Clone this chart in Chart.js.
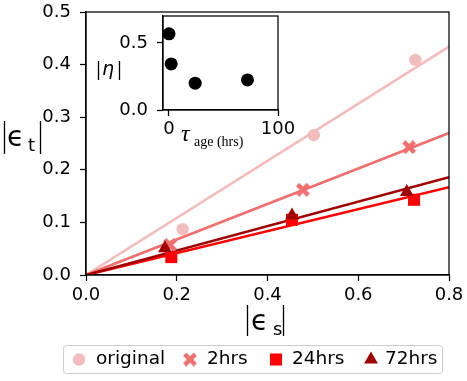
<!DOCTYPE html>
<html>
<head>
<meta charset="utf-8">
<script src="https://cdn.jsdelivr.net/npm/chart.js@4.4.0/dist/chart.umd.min.js"></script>
<style>
  body { margin: 0; background: #fff; }
  #wrap { position: relative; width: 467px; height: 381px; }
  #main { position: absolute; left: 0; top: 0; }
  #inset { position: absolute; left: 90px; top: 0; }
</style>
</head>
<body>
<div id="wrap">
  <canvas id="main" width="467" height="381"></canvas>
  <canvas id="inset" width="215" height="150"></canvas>
</div>
<script>
// series
const seriesNames = ['original', '2hrs', '24hrs', '72hrs'];
const seriesColors = ['#f4bdbd', '#ef6f6f', '#ff0000', '#a00000'];
const strainS = [
  [0.213, 0.502, 0.726],
  [0.185, 0.478, 0.712],
  [0.188, 0.454, 0.723],
  [0.174, 0.454, 0.707]
];
const strainT = [
  [0.087, 0.266, 0.409],
  [0.057, 0.162, 0.243],
  [0.034, 0.105, 0.143],
  [0.051, 0.113, 0.158]
];
// fitted lines through the origin, ends at x = 0.8
const fitS = [0, 0.8];
const fitT = [
  [0, 0.434],
  [0, 0.270],
  [0, 0.167],
  [0, 0.186]
];
const xTicks = [0, 0.2, 0.4, 0.6, 0.8];
const yTicks = [0, 0.1, 0.2, 0.3, 0.4, 0.5];

// inset
const ageHrs = [0, 2, 24, 72];
const etaAbs = [0.567, 0.343, 0.200, 0.224];
const insetXTicks = [0, 100];
const insetYTicks = [0, 0.5];

const FONT = 'DejaVu Sans';
const tickFont = { family: FONT, size: 18 };

// filled "X" marker like matplotlib's
function makeXMarker(color, size) {
  const c = document.createElement('canvas');
  c.width = size; c.height = size;
  const g = c.getContext('2d');
  g.strokeStyle = color;
  g.lineWidth = size * 0.32;
  g.lineCap = 'butt';
  const a = size * 0.12;
  g.beginPath();
  g.moveTo(a, a); g.lineTo(size - a, size - a);
  g.moveTo(size - a, a); g.lineTo(a, size - a);
  g.stroke();
  return c;
}

const markerStyles = ['circle', makeXMarker(seriesColors[1], 14), 'rect', 'triangle'];
const markerRadius = [6.2, 7, 8.5, 8];

// later series drawn on top, markers over the fit lines
const datasets = [];
seriesNames.forEach((name, i) => {
  datasets.push({
    type: 'scatter',
    label: name,
    data: strainS[i].map((x, k) => ({ x: x, y: strainT[i][k] })),
    backgroundColor: seriesColors[i],
    borderColor: seriesColors[i],
    borderWidth: 0,
    pointStyle: markerStyles[i],
    pointRadius: markerRadius[i],
    order: 1 + (3 - i) * 0.1
  });
});
seriesNames.forEach((name, i) => {
  datasets.push({
    type: 'line',
    label: name + ' fit',
    data: fitS.map((x, k) => ({ x: x, y: fitT[i][k] })),
    borderColor: seriesColors[i],
    borderWidth: 2.6,
    pointRadius: 0,
    fill: false,
    order: 2 + (3 - i) * 0.1
  });
});

function drawBars(ctx, x1, x2, top, bottom) {
  ctx.save();
  ctx.strokeStyle = '#000';
  ctx.lineWidth = 1.3;
  ctx.beginPath();
  ctx.moveTo(x1, top); ctx.lineTo(x1, bottom);
  ctx.moveTo(x2, top); ctx.lineTo(x2, bottom);
  ctx.stroke();
  ctx.restore();
}

// no extra room for the edge tick labels
const noPadX = s => { s.paddingLeft = 0; s.paddingRight = 0; };
const noPadY = s => { s.paddingTop = 0; s.paddingBottom = 0; };

const mainDecor = {
  id: 'mainDecor',
  afterDraw(chart) {
    const ctx = chart.ctx;
    const a = chart.chartArea;
    ctx.save();
    // top and right spines
    ctx.strokeStyle = '#000';
    ctx.lineWidth = 1.25;
    ctx.strokeRect(a.left, a.top, a.right - a.left, a.bottom - a.top);

    ctx.fillStyle = '#000';
    ctx.textBaseline = 'alphabetic';
    // y label |eps_t|
    drawBars(ctx, 4.5, 40.5, 121, 154);
    ctx.font = '28px ' + FONT;
    ctx.textAlign = 'left';
    ctx.fillText('\u03f5', 7, 146);
    ctx.font = '18px ' + FONT;
    ctx.fillText('t', 28, 151);
    // x label |eps_s|
    drawBars(ctx, 247.5, 283.5, 305, 336);
    ctx.font = '28px ' + FONT;
    ctx.fillText('\u03f5', 251, 330);
    ctx.font = '18px ' + FONT;
    ctx.fillText('s', 273, 335);

    // legend
    const lx = 63, ly = 345, lw = 379, lh = 28;
    ctx.fillStyle = 'rgba(255,255,255,0.85)';
    ctx.strokeStyle = '#cccccc';
    ctx.lineWidth = 1;
    ctx.beginPath();
    ctx.roundRect(lx + 0.5, ly + 0.5, lw, lh, 3);
    ctx.fill();
    ctx.stroke();
    const markX = [79, 190, 276, 371];
    const textX = [96, 207, 292, 385];
    const cy = ly + lh / 2 + 0.5;
    seriesNames.forEach((name, i) => {
      ctx.fillStyle = seriesColors[i];
      ctx.strokeStyle = seriesColors[i];
      Chart.helpers.drawPoint(ctx, {
        pointStyle: markerStyles[i],
        radius: markerRadius[i],
        borderWidth: 0,
        rotation: 0
      }, markX[i], cy);
      ctx.fillStyle = '#000';
      ctx.font = '18.5px ' + FONT;
      ctx.textAlign = 'left';
      ctx.textBaseline = 'middle';
      ctx.fillText(name, textX[i], cy);
    });
    ctx.restore();
  }
};

new Chart(document.getElementById('main'), {
  data: { datasets: datasets },
  options: {
    responsive: false,
    animation: false,
    layout: { padding: { top: 12, right: 18, left: 0, bottom: 0 } },
    plugins: { legend: { display: false }, tooltip: { enabled: false } },
    scales: {
      x: {
        type: 'linear',
        min: 0, max: 0.8,
        afterBuildTicks: s => { s.ticks = xTicks.map(v => ({ value: v })); },
        afterFit: s => { s.height = 106; noPadX(s); },
        ticks: { font: tickFont, color: '#000', padding: 4, maxRotation: 0,
          callback: v => v.toFixed(1) },
        grid: { drawOnChartArea: false, tickLength: 6, color: '#000', tickWidth: 1.25 },
        border: { color: '#000', width: 1.25 }
      },
      y: {
        type: 'linear',
        min: 0, max: 0.5,
        afterBuildTicks: s => { s.ticks = yTicks.map(v => ({ value: v })); },
        afterFit: s => { s.width = 86; noPadY(s); },
        ticks: { font: tickFont, color: '#000', padding: 9,
          callback: v => v.toFixed(1) },
        grid: { drawOnChartArea: false, tickLength: 6, color: '#000', tickWidth: 1.25 },
        border: { color: '#000', width: 1.25 }
      }
    }
  },
  plugins: [mainDecor]
});

const insetDecor = {
  id: 'insetDecor',
  beforeDraw(chart) {
    const a = chart.chartArea;
    chart.ctx.save();
    chart.ctx.fillStyle = '#fff';
    chart.ctx.fillRect(a.left, a.top, a.right - a.left, a.bottom - a.top);
    chart.ctx.restore();
  },
  afterDraw(chart) {
    const ctx = chart.ctx;
    const a = chart.chartArea;
    ctx.save();
    ctx.strokeStyle = '#000';
    ctx.lineWidth = 1.25;
    ctx.strokeRect(a.left, a.top, a.right - a.left, a.bottom - a.top);
    ctx.fillStyle = '#000';
    ctx.textAlign = 'left';
    ctx.textBaseline = 'alphabetic';
    // |eta|
    drawBars(ctx, 8.5, 29.5, 61, 80);
    ctx.font = 'italic 19px ' + FONT;
    ctx.fillText('\u03b7', 12, 75);
    // tau_age (hrs)
    ctx.font = 'italic 24px "Liberation Serif"';
    ctx.fillText('\u03c4', 91, 141);
    ctx.font = '14px "Liberation Serif"';
    ctx.fillText('age (hrs)', 104, 146);
    ctx.restore();
  }
};

new Chart(document.getElementById('inset'), {
  type: 'scatter',
  data: {
    datasets: [{
      label: '|eta|',
      data: ageHrs.map((x, k) => ({ x: x, y: etaAbs[k] })),
      backgroundColor: '#000',
      borderWidth: 0,
      pointRadius: 6.5
    }]
  },
  options: {
    responsive: false,
    animation: false,
    layout: { padding: { top: 16, right: 27, left: 0, bottom: 0 } },
    plugins: { legend: { display: false }, tooltip: { enabled: false } },
    scales: {
      x: {
        type: 'linear',
        min: -5.5, max: 100,
        afterBuildTicks: s => { s.ticks = insetXTicks.map(v => ({ value: v })); },
        afterFit: s => { s.height = 40; noPadX(s); },
        ticks: { font: tickFont, color: '#000', padding: 3, maxRotation: 0 },
        grid: { drawOnChartArea: false, tickLength: 6, color: '#000', tickWidth: 1.25 },
        border: { color: '#000', width: 1.25 }
      },
      y: {
        type: 'linear',
        min: 0, max: 0.7,
        afterBuildTicks: s => { s.ticks = insetYTicks.map(v => ({ value: v })); },
        afterFit: s => { s.width = 73; noPadY(s); },
        ticks: { font: tickFont, color: '#000', padding: 9,
          callback: v => v.toFixed(1) },
        grid: { drawOnChartArea: false, tickLength: 6, color: '#000', tickWidth: 1.25 },
        border: { color: '#000', width: 1.25 }
      }
    }
  },
  plugins: [insetDecor]
});
</script>
</body>
</html>
